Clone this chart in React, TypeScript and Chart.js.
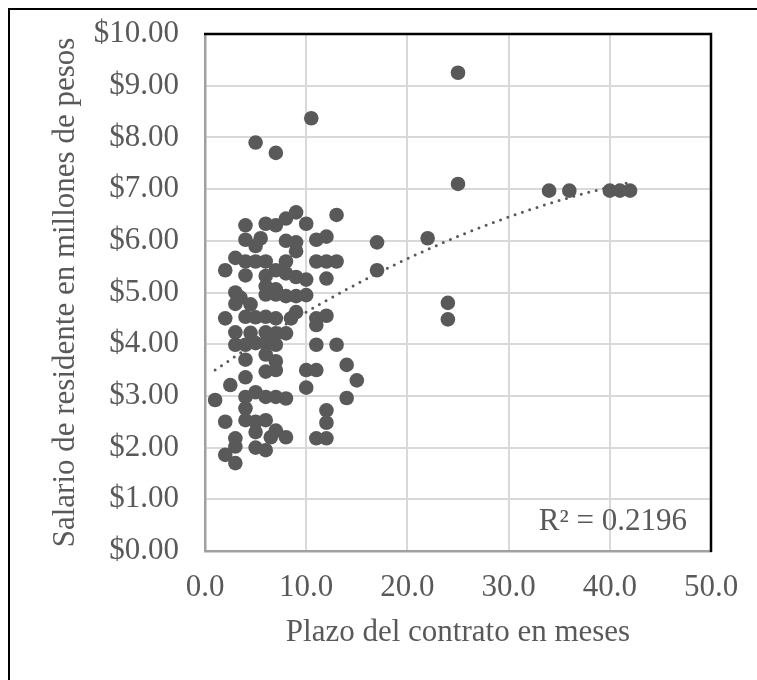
import React, { useEffect, useRef } from "react";
import { Chart, registerables } from "chart.js";

Chart.register(...registerables);

// Plazo del contrato (meses) – x values
const contractMonths: number[] = [
  25, 25, 10.5, 5, 7,
  4, 6, 7, 8, 9, 10, 13,
  4, 5.5, 5, 8, 9, 9, 11, 12, 17, 22,
  3, 4, 5, 6, 8, 11, 12, 13,
  2, 4, 6, 7, 8, 9, 10, 12, 17,
  6, 7, 3, 6, 7, 8, 9, 10,
  3.5, 3, 4.5,
  2, 4, 5, 6, 7, 8.5, 9, 11, 11, 12, 24, 24,
  3, 4.5, 6, 7, 8,
  3, 4, 5, 6, 7, 11, 13,
  4, 6, 7, 6, 7, 10, 11, 14, 15,
  2.5, 4, 10,
  1, 4, 5, 6, 7, 8, 14,
  4, 2, 4, 5, 6, 12, 12,
  5, 7, 3, 6.5, 8, 11, 12,
  5, 6, 3, 2, 3,
  34, 36, 40, 41, 42,
];

// Salario de residente (millones de pesos) – y values
const residentSalary: number[] = [
  9.25, 7.1, 8.37, 7.9, 7.7,
  6.3, 6.33, 6.3, 6.43, 6.55, 6.33, 6.5,
  6.02, 6.05, 5.9, 6.0, 5.97, 5.8, 6.02, 6.08, 5.97, 6.05,
  5.67, 5.6, 5.6, 5.6, 5.6, 5.6, 5.6, 5.6,
  5.43, 5.33, 5.32, 5.43, 5.37, 5.3, 5.25, 5.27, 5.43,
  5.12, 5.06, 5.0, 4.96, 4.96, 4.93, 4.93, 4.95,
  4.9, 4.78, 4.77,
  4.5, 4.53, 4.52, 4.53, 4.5, 4.5, 4.62, 4.5, 4.37, 4.55, 4.8, 4.48,
  4.23, 4.22, 4.23, 4.21, 4.21,
  3.99, 3.99, 4.02, 4.02, 3.99, 3.99, 3.99,
  3.7, 3.8, 3.67, 3.47, 3.5, 3.5, 3.5, 3.6, 3.3,
  3.21, 3.36, 3.16,
  2.92, 2.98, 3.07, 2.98, 2.98, 2.95, 2.96,
  2.76, 2.5, 2.53, 2.5, 2.53, 2.72, 2.48,
  2.3, 2.33, 2.18, 2.2, 2.2, 2.18, 2.18,
  2.0, 1.95, 2.02, 1.86, 1.7,
  6.97, 6.97, 6.97, 6.97, 6.97,
];

// Polynomial (order 2) trendline as shown in the picture: y = c0 + c1·x + c2·x²
const trendCoefficients: number[] = [3.364, 0.1371, -0.00113];

const xTickValues: number[] = [0, 10, 20, 30, 40, 50];
const yTickValues: number[] = [0, 1, 2, 3, 4, 5, 6, 7, 8, 9, 10];

const xAxisTitle = "Plazo del contrato en meses";
const yAxisTitle = "Salario de residente en millones de pesos";
const rSquaredLabel = "R² = 0.2196";

const FONT = '"Liberation Serif", "Times New Roman", serif';
const TEXT = "#595959";

export default function App() {
  const canvasRef = useRef<HTMLCanvasElement | null>(null);

  useEffect(() => {
    const canvas = canvasRef.current;
    if (!canvas) return;

    const [c0, c1, c2] = trendCoefficients;
    const xMin = Math.min(...contractMonths);
    const xMax = Math.max(...contractMonths);
    const trend: { x: number; y: number }[] = [];
    const steps = 120;
    for (let i = 0; i <= steps; i++) {
      const x = xMin + ((xMax - xMin) * i) / steps;
      trend.push({ x, y: c0 + c1 * x + c2 * x * x });
    }

    const framePlugin = {
      id: "frameAndR2",
      afterDraw(chart: any) {
        const { ctx, chartArea } = chart;
        const { left, right, top, bottom } = chartArea;
        ctx.save();
        ctx.strokeStyle = "#000000";
        ctx.lineWidth = 2.5;
        ctx.beginPath();
        ctx.moveTo(left - 1, top);
        ctx.lineTo(right, top);
        ctx.lineTo(right, bottom + 1);
        ctx.stroke();
        ctx.font = `31px ${FONT}`;
        ctx.fillStyle = TEXT;
        ctx.textAlign = "right";
        ctx.textBaseline = "alphabetic";
        ctx.fillText(rSquaredLabel, right - 24, bottom - 21);
        ctx.restore();
      },
    };

    const chart = new Chart(canvas, {
      type: "scatter",
      data: {
        datasets: [
          {
            label: "Tendencia",
            data: trend,
            showLine: true,
            pointRadius: 0,
            borderColor: TEXT,
            borderWidth: 3,
            borderDash: [0, 7.7],
            borderCapStyle: "round",
            tension: 0,
            order: 0,
          } as any,
          {
            label: "Salario",
            data: contractMonths.map((x, i) => ({ x, y: residentSalary[i] })),
            pointRadius: 7.3,
            pointBackgroundColor: TEXT,
            pointBorderWidth: 0,
            borderColor: TEXT,
            order: 1,
          } as any,
        ],
      },
      options: {
        responsive: false,
        animation: false,
        devicePixelRatio: 1,
        layout: { padding: { left: 0, right: 46, top: 24, bottom: 19 } },
        plugins: { legend: { display: false }, tooltip: { enabled: false } },
        scales: {
          x: {
            type: "linear",
            min: 0,
            max: 50,
            afterBuildTicks: (scale: any) => {
              scale.ticks = xTickValues.map((v) => ({ value: v }));
            },
            afterFit: (scale: any) => {
              scale.height = 110;
              scale.paddingLeft = 0;
              scale.paddingRight = 0;
            },
            ticks: {
              padding: 18,
              color: TEXT,
              font: { family: FONT, size: 31 },
              callback: (v: any) => Number(v).toFixed(1),
            },
            grid: { color: "#d9d9d9", lineWidth: 2, drawTicks: false },
            border: { display: true, color: "#a0a0a0", width: 2.5 },
            title: {
              display: true,
              text: xAxisTitle,
              color: TEXT,
              font: { family: FONT, size: 31 },
              padding: { top: 0, bottom: 10 },
            },
          },
          y: {
            type: "linear",
            min: 0,
            max: 10,
            afterBuildTicks: (scale: any) => {
              scale.ticks = yTickValues.map((v) => ({ value: v }));
            },
            afterFit: (scale: any) => {
              scale.width = 195;
              scale.paddingTop = 0;
              scale.paddingBottom = 0;
            },
            ticks: {
              padding: 26,
              color: TEXT,
              font: { family: FONT, size: 31 },
              callback: (v: any) => "$" + Number(v).toFixed(2),
            },
            grid: { color: "#d9d9d9", lineWidth: 2, drawTicks: false },
            border: { display: true, color: "#a0a0a0", width: 2.5 },
            title: {
              display: true,
              text: yAxisTitle,
              color: TEXT,
              font: { family: FONT, size: 31 },
              padding: { top: 37, bottom: 0 },
            },
          },
        },
      } as any,
      plugins: [framePlugin],
    });

    return () => chart.destroy();
  }, []);

  return (
    <div
      style={{
        position: "fixed",
        left: 8,
        top: 8,
        width: 747,
        height: 670,
        borderTop: "2px solid #000",
        borderLeft: "2px solid #000",
        background: "#fff",
      }}
    >
      <canvas ref={canvasRef} width={747} height={670} style={{ display: "block" }} />
    </div>
  );
}
